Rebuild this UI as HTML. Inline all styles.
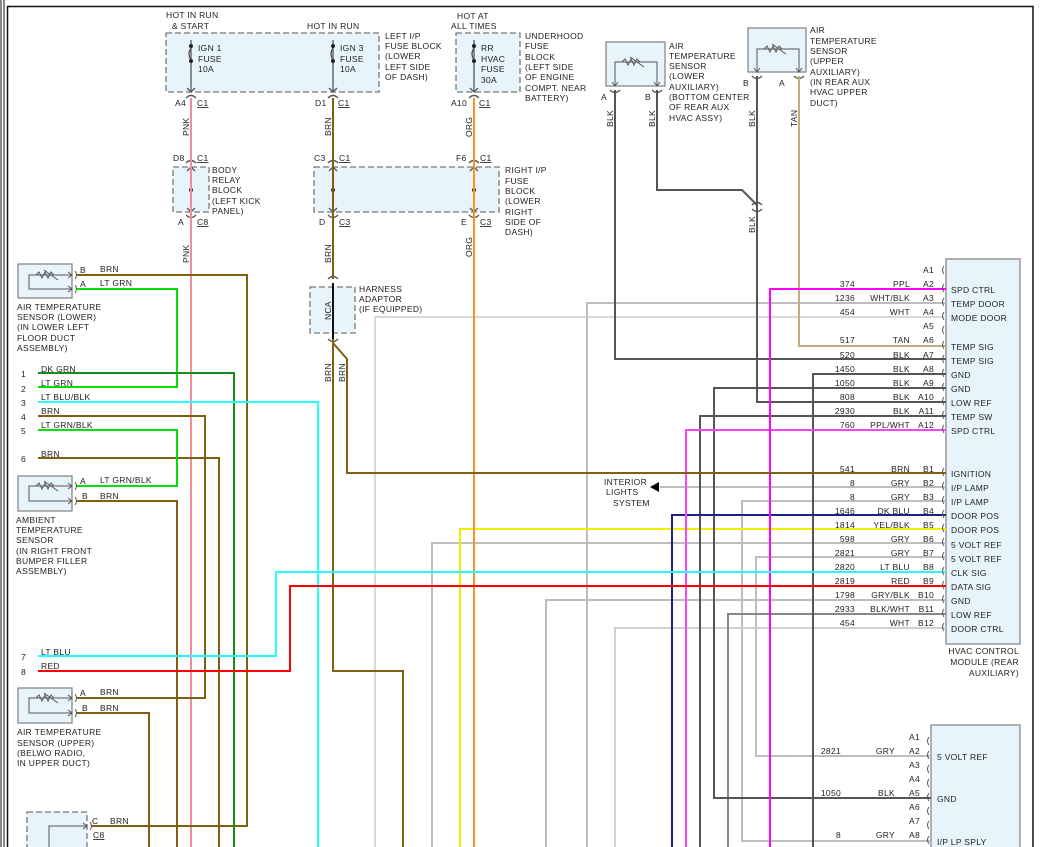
<!DOCTYPE html>
<html><head><meta charset="utf-8"><style>
html,body{margin:0;padding:0;background:#fff;}
svg{display:block;font-family:"Liberation Sans",sans-serif;font-size:8.5px;fill:#222;}
text{letter-spacing:0.3px}
</style></head><body>
<svg width="1041" height="847" viewBox="0 0 1041 847" xmlns="http://www.w3.org/2000/svg">
<!-- frame -->
<g stroke="#111" fill="none">
<line x1="1" y1="0" x2="1" y2="847" stroke-width="1"/>
<line x1="4" y1="0" x2="4" y2="847" stroke-width="1"/>
<path d="M7.5 847 V6.5 H1033 V847" stroke-width="1.5"/>
</g>

<!-- boxes -->
<g fill="#e8f4fb" stroke="#777" stroke-width="1.3" stroke-dasharray="6,3">
<rect x="166" y="33" width="213" height="59"/>
<rect x="456" y="33" width="64" height="59"/>
<rect x="173" y="167" width="36" height="45"/>
<rect x="314" y="167" width="185" height="45"/>
<rect x="310" y="287" width="45" height="46"/>
<rect x="27" y="812" width="60" height="40"/>
</g>
<g fill="#e8f4fb" stroke="#888" stroke-width="1.3">
<rect x="18" y="264" width="54" height="34"/>
<rect x="18" y="476" width="54" height="35"/>
<rect x="18" y="688" width="54" height="35"/>
<rect x="606" y="42" width="59" height="44"/>
<rect x="748" y="28" width="58" height="44"/>
<rect x="946" y="259" width="74" height="385"/>
<rect x="931" y="725" width="89" height="130"/>
</g>

<!-- fuse internals -->
<g stroke="#555" stroke-width="1.3" fill="none">
<line x1="191" y1="40" x2="191" y2="92"/><line x1="333" y1="40" x2="333" y2="92"/><line x1="474" y1="40" x2="474" y2="92"/>
<line x1="191" y1="167" x2="191" y2="212"/><line x1="333" y1="167" x2="333" y2="212"/><line x1="474" y1="167" x2="474" y2="212"/>
<path d="M191 48 q-4 6 0 12"/><path d="M333 48 q-4 6 0 12"/><path d="M474 48 q-4 6 0 12"/>
<path d="M187 88 l4 4 l4 -4M329 88 l4 4 l4 -4M470 88 l4 4 l4 -4"/>
<path d="M187 171 l4 -4 l4 4M187 208 l4 4 l4 -4M329 171 l4 -4 l4 4M329 208 l4 4 l4 -4M470 171 l4 -4 l4 4M470 208 l4 4 l4 -4"/>
<!-- connector arcs -->
<path d="M186 98 q5 -5 10 0M328 98 q5 -5 10 0M469 98 q5 -5 10 0M186 163 q5 -5 10 0M328 163 q5 -5 10 0M469 163 q5 -5 10 0M186 215 q5 5 10 0M328 215 q5 5 10 0M469 215 q5 5 10 0M328 279 q5 -5 10 0M328 339 q5 5 10 0"/>
<path d="M610 90 q5 5 10 0M652 90 q5 5 10 0M752 76 q5 5 10 0M794 76 q5 5 10 0M752 205 q5 -5 10 0M752 209 q5 5 10 0"/>
</g>
<g fill="#222"><circle cx="191" cy="46" r="2"/><circle cx="191" cy="61" r="2"/><circle cx="333" cy="46" r="2"/><circle cx="333" cy="61" r="2"/><circle cx="474" cy="46" r="2"/><circle cx="474" cy="61" r="2"/>
<circle cx="191" cy="190" r="2"/><circle cx="333" cy="190" r="2"/><circle cx="474" cy="190" r="2"/></g>
<line x1="333" y1="283" x2="333" y2="339" stroke="#111" stroke-width="2"/>

<!-- sensors internals -->
<g stroke="#555" stroke-width="1" fill="none">
<path d="M72 275 H29 V289 H72"/><path d="M36 275 l3 -3 l3 6 l3 -6 l3 6 l3 -6 l3 3 M44 270 l14 10"/><path d="M68 272 l4 3 l-4 3M68 286 l4 3 l-4 3"/>
<path d="M72 486 H29 V501 H72"/><path d="M36 486 l3 -3 l3 6 l3 -6 l3 6 l3 -6 l3 3 M44 481 l14 10"/><path d="M68 483 l4 3 l-4 3M68 498 l4 3 l-4 3"/>
<path d="M72 698 H29 V713 H72"/><path d="M36 698 l3 -3 l3 6 l3 -6 l3 6 l3 -6 l3 3 M44 693 l14 10"/><path d="M68 695 l4 3 l-4 3M68 710 l4 3 l-4 3"/>
<path d="M87 826 H49 V852"/><path d="M83 823 l4 3 l-4 3"/>
<path d="M615 86 V62 H657 V86"/><path d="M622 62 l3 -3 l3 6 l3 -6 l3 6 l3 -6 l3 3 M630 57 l14 10"/><path d="M612 82 l3 4 l3 -4M654 82 l3 4 l3 -4"/>
<path d="M757 72 V49 H799 V72"/><path d="M764 49 l3 -3 l3 6 l3 -6 l3 6 l3 -6 l3 3 M772 44 l14 10"/><path d="M754 68 l3 4 l3 -4M796 68 l3 4 l3 -4"/>
<path d="M75 271 q3 4 0 8M75 285 q3 4 0 8M75 482 q3 4 0 8M75 497 q3 4 0 8M75 694 q3 4 0 8M75 709 q3 4 0 8M90 822 q3 4 0 8"/>
</g>

<!-- wires -->
<g fill="none" stroke-width="2">
<!-- light grays -->
<g stroke="#d9d9d9"><path d="M946 317 H375 V847"/></g>
<g stroke="#bdbdbd">
<path d="M946 303 H587 V847"/><path d="M946 543 H432 V847"/><path d="M946 557 H756 V756 H931"/>
<path d="M946 501 H742 V841 H931"/><path d="M946 600 H546 V847"/><path d="M946 487 H660"/>
</g>
<g stroke="#d0d0d0"><path d="M946 628 H615 V847"/></g>
<g stroke="#888"><path d="M946 614 H728 V847"/></g>
<path d="M946 529 H460 V847" stroke="#f0f000"/>
<!-- blacks -->
<g stroke="#555">
<path d="M946 359 H615 V90"/><path d="M946 374 H813 V847"/><path d="M946 388 H714 V798 H931"/>
<path d="M946 402 H757 V76"/><path d="M946 416 H700 V847"/><path d="M657 90 V190 H742 L757 205"/>
</g>
<path d="M946 346 H799 V76" stroke="#c2ab7e"/>
<path d="M946 515 H672 V847" stroke="#1a237e"/>
<path d="M946 430 H686 V847" stroke="#ff40ff"/>
<path d="M946 289 H770 V847" stroke="#ff00ff"/>
<path d="M474 98 V847" stroke="#f7941d"/>
<path d="M191 98 V847" stroke="#f08c9c"/>
<!-- browns -->
<g stroke="#806010">
<path d="M333 98 V279"/><path d="M333 339 V671 H403 V847"/><path d="M333 343 L347 359 V473 H946"/>
<path d="M77 275 H247 V826 H92"/><path d="M38 416 H205 V698 H77"/><path d="M38 458 H219 V847"/>
<path d="M77 501 H177 V847"/><path d="M77 713 H149 V847"/>
</g>
<g stroke="#00e000"><path d="M77 289 H177 V387 H38"/><path d="M38 430 H177 V486 H77"/></g>
<path d="M38 373 H234 V847" stroke="#1a8a1a"/>
<path d="M38 402 H318 V847" stroke="#22ffff"/>
<path d="M38 656 H276 V572 H946" stroke="#22ffff"/>
<path d="M38 671 H290 V586 H946" stroke="#ff0000"/>
</g>
<polygon points="650,487 659,482 659,492" fill="#000"/>

<!-- module connector arcs -->
<g stroke="#555" fill="none" stroke-width="1">
<path d="M944 266 q-3 4 0 8M944 284 q-3 4 0 8M944 298 q-3 4 0 8M944 312 q-3 4 0 8M944 326 q-3 4 0 8M944 341 q-3 4 0 8M944 355 q-3 4 0 8M944 369 q-3 4 0 8M944 383 q-3 4 0 8M944 397 q-3 4 0 8M944 411 q-3 4 0 8M944 425 q-3 4 0 8"/>
<path d="M944 468 q-3 4 0 8M944 482 q-3 4 0 8M944 496 q-3 4 0 8M944 510 q-3 4 0 8M944 524 q-3 4 0 8M944 538 q-3 4 0 8M944 552 q-3 4 0 8M944 567 q-3 4 0 8M944 581 q-3 4 0 8M944 595 q-3 4 0 8M944 609 q-3 4 0 8M944 623 q-3 4 0 8"/>
<path d="M929 737 q-3 4 0 8M929 751 q-3 4 0 8M929 765 q-3 4 0 8M929 779 q-3 4 0 8M929 793 q-3 4 0 8M929 807 q-3 4 0 8M929 821 q-3 4 0 8M929 836 q-3 4 0 8"/>
</g>

<!-- text -->
<g>
<text x="166" y="18">HOT IN RUN</text><text x="172" y="29">&amp; START</text>
<text x="307" y="29">HOT IN RUN</text>
<text x="457" y="19">HOT AT</text><text x="451" y="29">ALL TIMES</text>
<text x="198" y="51">IGN 1</text><text x="198" y="62">FUSE</text><text x="198" y="72">10A</text>
<text x="340" y="51">IGN 3</text><text x="340" y="62">FUSE</text><text x="340" y="72">10A</text>
<text x="481" y="51">RR</text><text x="481" y="62">HVAC</text><text x="481" y="72">FUSE</text><text x="481" y="83">30A</text>
<text x="385" y="39">LEFT I/P</text><text x="385" y="49">FUSE BLOCK</text><text x="385" y="59">(LOWER</text><text x="385" y="70">LEFT SIDE</text><text x="385" y="80">OF DASH)</text>
<text x="525" y="39">UNDERHOOD</text><text x="525" y="49">FUSE</text><text x="525" y="60">BLOCK</text><text x="525" y="70">(LEFT SIDE</text><text x="525" y="80">OF ENGINE</text><text x="525" y="91">COMPT. NEAR</text><text x="525" y="101">BATTERY)</text>
<text x="175" y="106">A4</text><text x="197" y="106" text-decoration="underline">C1</text>
<text x="315" y="106">D1</text><text x="338" y="106" text-decoration="underline">C1</text>
<text x="451" y="106">A10</text><text x="479" y="106" text-decoration="underline">C1</text>
<text x="173" y="161">D8</text><text x="197" y="161" text-decoration="underline">C1</text>
<text x="314" y="161">C3</text><text x="339" y="161" text-decoration="underline">C1</text>
<text x="456" y="161">F6</text><text x="480" y="161" text-decoration="underline">C1</text>
<text x="178" y="225">A</text><text x="197" y="225" text-decoration="underline">C8</text>
<text x="319" y="225">D</text><text x="339" y="225" text-decoration="underline">C3</text>
<text x="461" y="225">E</text><text x="480" y="225" text-decoration="underline">C3</text>
<text x="212" y="173">BODY</text><text x="212" y="183">RELAY</text><text x="212" y="193">BLOCK</text><text x="212" y="204">(LEFT KICK</text><text x="212" y="214">PANEL)</text>
<text x="505" y="173">RIGHT I/P</text><text x="505" y="184">FUSE</text><text x="505" y="194">BLOCK</text><text x="505" y="204">(LOWER</text><text x="505" y="215">RIGHT</text><text x="505" y="225">SIDE OF</text><text x="505" y="235">DASH)</text>
<text x="359" y="292">HARNESS</text><text x="359" y="302">ADAPTOR</text><text x="359" y="312">(IF EQUIPPED)</text>
<text transform="translate(189,136) rotate(-90)">PNK</text>
<text transform="translate(189,263) rotate(-90)">PNK</text>
<text transform="translate(331,136) rotate(-90)">BRN</text>
<text transform="translate(331,263) rotate(-90)">BRN</text>
<text transform="translate(331,320) rotate(-90)">NCA</text>
<text transform="translate(331,382) rotate(-90)">BRN</text>
<text transform="translate(345,382) rotate(-90)">BRN</text>
<text transform="translate(472,137) rotate(-90)">ORG</text>
<text transform="translate(472,257) rotate(-90)">ORG</text>
<text transform="translate(613,127) rotate(-90)">BLK</text>
<text transform="translate(655,127) rotate(-90)">BLK</text>
<text transform="translate(755,127) rotate(-90)">BLK</text>
<text transform="translate(755,233) rotate(-90)">BLK</text>
<text transform="translate(797,127) rotate(-90)">TAN</text>
<text x="601" y="100">A</text><text x="645" y="100">B</text><text x="743" y="86">B</text><text x="779" y="86">A</text>
<text x="669" y="49">AIR</text><text x="669" y="59">TEMPERATURE</text><text x="669" y="69">SENSOR</text><text x="669" y="79">(LOWER</text><text x="669" y="90">AUXILIARY)</text><text x="669" y="100">(BOTTOM CENTER</text><text x="669" y="110">OF REAR AUX</text><text x="669" y="121">HVAC ASSY)</text>
<text x="810" y="33">AIR</text><text x="810" y="44">TEMPERATURE</text><text x="810" y="54">SENSOR</text><text x="810" y="64">(UPPER</text><text x="810" y="75">AUXILIARY)</text><text x="810" y="85">(IN REAR AUX</text><text x="810" y="95">HVAC UPPER</text><text x="810" y="106">DUCT)</text>
<text x="80" y="273">B</text><text x="100" y="272">BRN</text><text x="80" y="287">A</text><text x="100" y="286">LT GRN</text>
<text x="17" y="310">AIR TEMPERATURE</text><text x="17" y="320">SENSOR (LOWER)</text><text x="17" y="330">(IN LOWER LEFT</text><text x="17" y="341">FLOOR DUCT</text><text x="17" y="351">ASSEMBLY)</text>
<text x="21" y="377">1</text><text x="41" y="372">DK GRN</text>
<text x="21" y="392">2</text><text x="41" y="386">LT GRN</text>
<text x="21" y="406">3</text><text x="41" y="400">LT BLU/BLK</text>
<text x="21" y="420">4</text><text x="41" y="414">BRN</text>
<text x="21" y="434">5</text><text x="41" y="428">LT GRN/BLK</text>
<text x="21" y="462">6</text><text x="41" y="457">BRN</text>
<text x="80" y="484">A</text><text x="100" y="483">LT GRN/BLK</text><text x="82" y="499">B</text><text x="100" y="499">BRN</text>
<text x="16" y="523">AMBIENT</text><text x="16" y="533">TEMPERATURE</text><text x="16" y="543">SENSOR</text><text x="16" y="554">(IN RIGHT FRONT</text><text x="16" y="564">BUMPER FILLER</text><text x="16" y="574">ASSEMBLY)</text>
<text x="21" y="660">7</text><text x="41" y="655">LT BLU</text>
<text x="21" y="675">8</text><text x="41" y="669">RED</text>
<text x="80" y="696">A</text><text x="100" y="695">BRN</text><text x="82" y="711">B</text><text x="100" y="711">BRN</text>
<text x="17" y="735">AIR TEMPERATURE</text><text x="17" y="746">SENSOR (UPPER)</text><text x="17" y="756">(BELWO RADIO,</text><text x="17" y="766">IN UPPER DUCT)</text>
<text x="92" y="824">C</text><text x="110" y="824">BRN</text><text x="93" y="838" text-decoration="underline">C8</text>
<text x="604" y="485">INTERIOR</text><text x="606" y="495">LIGHTS</text><text x="613" y="506">SYSTEM</text>
</g>
<!-- module row labels -->
<g text-anchor="end">
<text x="934" y="273">A1</text>
<text x="855" y="287">374</text><text x="910" y="287">PPL</text><text x="934" y="287">A2</text>
<text x="855" y="301">1236</text><text x="910" y="301">WHT/BLK</text><text x="934" y="301">A3</text>
<text x="855" y="315">454</text><text x="910" y="315">WHT</text><text x="934" y="315">A4</text>
<text x="934" y="329">A5</text>
<text x="855" y="343">517</text><text x="910" y="343">TAN</text><text x="934" y="343">A6</text>
<text x="855" y="358">520</text><text x="910" y="358">BLK</text><text x="934" y="358">A7</text>
<text x="855" y="372">1450</text><text x="910" y="372">BLK</text><text x="934" y="372">A8</text>
<text x="855" y="386">1050</text><text x="910" y="386">BLK</text><text x="934" y="386">A9</text>
<text x="855" y="400">808</text><text x="910" y="400">BLK</text><text x="934" y="400">A10</text>
<text x="855" y="414">2930</text><text x="910" y="414">BLK</text><text x="934" y="414">A11</text>
<text x="855" y="428">760</text><text x="910" y="428">PPL/WHT</text><text x="934" y="428">A12</text>
<text x="855" y="472">541</text><text x="910" y="472">BRN</text><text x="934" y="472">B1</text>
<text x="855" y="486">8</text><text x="910" y="486">GRY</text><text x="934" y="486">B2</text>
<text x="855" y="500">8</text><text x="910" y="500">GRY</text><text x="934" y="500">B3</text>
<text x="855" y="514">1646</text><text x="910" y="514">DK BLU</text><text x="934" y="514">B4</text>
<text x="855" y="528">1814</text><text x="910" y="528">YEL/BLK</text><text x="934" y="528">B5</text>
<text x="855" y="542">598</text><text x="910" y="542">GRY</text><text x="934" y="542">B6</text>
<text x="855" y="556">2821</text><text x="910" y="556">GRY</text><text x="934" y="556">B7</text>
<text x="855" y="570">2820</text><text x="910" y="570">LT BLU</text><text x="934" y="570">B8</text>
<text x="855" y="584">2819</text><text x="910" y="584">RED</text><text x="934" y="584">B9</text>
<text x="855" y="598">1798</text><text x="910" y="598">GRY/BLK</text><text x="934" y="598">B10</text>
<text x="855" y="612">2933</text><text x="910" y="612">BLK/WHT</text><text x="934" y="612">B11</text>
<text x="855" y="626">454</text><text x="910" y="626">WHT</text><text x="934" y="626">B12</text>
<text x="920" y="740">A1</text>
<text x="841" y="754">2821</text><text x="895" y="754">GRY</text><text x="920" y="754">A2</text>
<text x="920" y="768">A3</text><text x="920" y="782">A4</text>
<text x="841" y="796">1050</text><text x="895" y="796">BLK</text><text x="920" y="796">A5</text>
<text x="920" y="810">A6</text><text x="920" y="824">A7</text>
<text x="841" y="838">8</text><text x="895" y="838">GRY</text><text x="920" y="838">A8</text>
<text x="1019" y="654">HVAC CONTROL</text><text x="1019" y="665">MODULE (REAR</text><text x="1019" y="676">AUXILIARY)</text>
</g>
<g>
<text x="951" y="293">SPD CTRL</text><text x="951" y="307">TEMP DOOR</text><text x="951" y="321">MODE DOOR</text>
<text x="951" y="350">TEMP SIG</text><text x="951" y="364">TEMP SIG</text><text x="951" y="378">GND</text><text x="951" y="392">GND</text>
<text x="951" y="406">LOW REF</text><text x="951" y="420">TEMP SW</text><text x="951" y="434">SPD CTRL</text>
<text x="951" y="477">IGNITION</text><text x="951" y="491">I/P LAMP</text><text x="951" y="505">I/P LAMP</text><text x="951" y="519">DOOR POS</text>
<text x="951" y="533">DOOR POS</text><text x="951" y="548">5 VOLT REF</text><text x="951" y="562">5 VOLT REF</text><text x="951" y="576">CLK SIG</text>
<text x="951" y="590">DATA SIG</text><text x="951" y="604">GND</text><text x="951" y="618">LOW REF</text><text x="951" y="632">DOOR CTRL</text>
<text x="937" y="760">5 VOLT REF</text><text x="937" y="802">GND</text><text x="937" y="845">I/P LP SPLY</text>
</g>
</svg>
</body></html>
